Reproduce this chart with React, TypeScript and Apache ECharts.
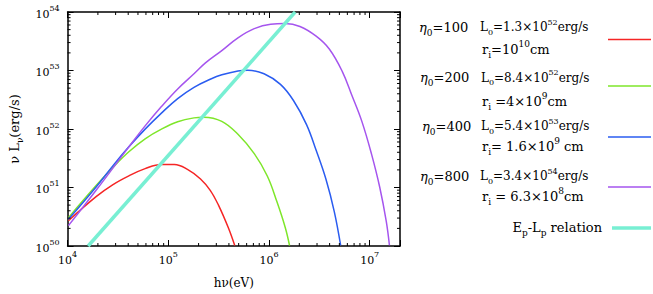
import React, { useEffect, useRef } from "react";
import * as echarts from "echarts";

// ---- data (hν in eV, νLν in erg/s) ----
const redE = [1.02e4, 1.92e4, 2.8e4, 4.06e4, 5.89e4, 8.55e4, 1.15e5, 1.55e5, 2.09e5, 2.61e5, 3.15e5, 3.94e5, 4.57e5];
const redL = [2.7e50, 6.97e50, 1.11e51, 1.58e51, 2.1e51, 2.47e51, 2.47e51, 2.04e51, 1.4e51, 8.95e50, 5.01e50, 2.07e50, 1.02e50];

const greenE = [1.02e4, 1.92e4, 2.8e4, 4.06e4, 5.89e4, 8.55e4, 1.24e5, 1.8e5, 2.25e5, 3.4e5, 4.92e5, 7.14e5, 9.62e5, 1.2e6, 1.45e6, 1.6e6];
const greenL = [3.05e50, 1.08e51, 2.18e51, 4.09e51, 6.81e51, 9.95e51, 1.33e52, 1.55e52, 1.59e52, 1.35e52, 8.11e51, 3.79e51, 1.57e51, 5.68e50, 2.07e50, 1.02e50];

const blueE = [1.02e4, 1.92e4, 2.8e4, 4.06e4, 5.89e4, 8.55e4, 1.24e5, 1.8e5, 2.61e5, 3.4e5, 4.92e5, 6.15e5, 8.93e5, 1.3e6, 1.75e6, 2.36e6, 2.94e6, 3.68e6, 4.45e6, 5.15e6];
const blueL = [2.86e50, 1.02e51, 2.32e51, 4.95e51, 9.95e51, 1.87e52, 3.31e52, 5.16e52, 7.08e52, 8.45e52, 9.84e52, 1.01e53, 8.79e52, 5.78e52, 3.07e52, 1.19e52, 4.32e51, 1.38e51, 3.88e50, 1.02e50];

const purpleE = [1.02e4, 1.92e4, 4.06e4, 5.89e4, 8.55e4, 1.24e5, 1.8e5, 2.34e5, 3.4e5, 4.92e5, 7.14e5, 1.04e6, 1.45e6, 2.03e6, 2.94e6, 3.97e6, 5.35e6, 6.68e6, 8.36e6, 1.04e7, 1.26e7, 1.46e7, 1.57e7];
const purpleL = [2.23e50, 8.95e50, 4.95e51, 1.13e52, 2.42e52, 4.84e52, 8.8e52, 1.35e53, 2.19e53, 3.62e53, 5.19e53, 6.17e53, 6.34e53, 5.65e53, 3.86e53, 2.33e53, 9.59e52, 3.71e52, 1.35e52, 3.79e51, 1.0e51, 2.65e50, 1.03e50];

const relationE = [1.6e4, 1.82e6];
const relationL = [1.0e50, 1.0e54];

// legend labels
const etaValues = ["100", "200", "400", "800"];
const l0Mantissa = ["1.3", "8.4", "5.4", "3.4"];
const l0Exponent = ["52", "52", "53", "54"];
const riLabels = [
  "{n|r}{sub|i}{n|=10}{sup|10}{n|cm}",
  "{n|r}{sub|i}{n| =4×10}{sup|9}{n|cm}",
  "{n|r}{sub|i}{n|= 1.6×10}{sup|9}{n| cm}",
  "{n|r}{sub|i}{n| = 6.3×10}{sup|8}{n|cm}",
];
const relationLabel = "{n|E}{sub|p}{n|-L}{sub|p}{n| relation}";
const xAxisTitle = "{n|hν(eV)}";
const yAxisTitle = "{n|ν L}{sub|ν}{n|(erg/s)}";

const colors = ["#f52525", "#7ee62a", "#2a5cf0", "#a555ee", "#78efd3"];

// axis settings
const xMin = 1e4;
const xMax = 2e7;
const yMin = 1e50;
const yMax = 1e54;
const minorMultipliers = [2, 3, 4, 5, 6, 7, 8, 9];

const FONT = "DejaVu Serif";

const zip = (a: number[], b: number[]) => a.map((v, i) => [v, b[i]]);

const rich13 = {
  n: { fontFamily: FONT, fontSize: 13, lineHeight: 20, color: "#000" },
  sup: { fontFamily: FONT, fontSize: 9, lineHeight: 9, verticalAlign: "top", color: "#000" },
  sub: { fontFamily: FONT, fontSize: 9, lineHeight: 14, verticalAlign: "bottom", color: "#000" },
};
const rich12 = {
  n: { fontFamily: FONT, fontSize: 12, lineHeight: 18, color: "#000" },
  sup: { fontFamily: FONT, fontSize: 8, lineHeight: 8, verticalAlign: "top", color: "#000" },
  sub: { fontFamily: FONT, fontSize: 8, lineHeight: 12, verticalAlign: "bottom", color: "#000" },
};

const axisRich = {
  b: { fontFamily: FONT, fontSize: 11, lineHeight: 20, color: "#000" },
  s: { fontFamily: FONT, fontSize: 8, lineHeight: 8, verticalAlign: "top", color: "#000" },
};

const powLabel = (v: number) => {
  const e = Math.round(Math.log10(v));
  if (Math.abs(v - Math.pow(10, e)) / v > 1e-6) return "";
  return `{b|10}{s|${e}}`;
};

function minorValues(min: number, max: number) {
  const out: number[] = [];
  for (let d = Math.floor(Math.log10(min)); d <= Math.ceil(Math.log10(max)); d++) {
    for (const m of minorMultipliers) {
      const v = m * Math.pow(10, d);
      if (v > min * 1.0001 && v < max * 0.9999) out.push(v);
    }
  }
  return out;
}

export default function App() {
  const ref = useRef<HTMLDivElement>(null);
  useEffect(() => {
    if (!ref.current) return;
    const chart = echarts.init(ref.current, undefined, { renderer: "svg" });
    const axisLine = { show: true, lineStyle: { color: "#000", width: 1.5 } };
    const tick = { show: true, inside: true, length: 6, lineStyle: { color: "#000", width: 1 } };
    const xBase = { type: "log", logBase: 10, min: xMin, max: xMax, splitLine: { show: false }, axisLine, axisTick: tick };
    const yBase = { type: "log", logBase: 10, min: yMin, max: yMax, splitLine: { show: false }, axisLine, axisTick: tick };

    const xMinor = minorValues(xMin, xMax);
    const yMinor = minorValues(yMin, yMax);

    const curve = (name: string, E: number[], L: number[], color: string) => ({
      name,
      type: "line",
      xAxisIndex: 0,
      yAxisIndex: 0,
      data: zip(E, L),
      showSymbol: false,
      symbol: "none",
      smooth: 0.4,
      lineStyle: { color, width: 1.5 },
      z: 3,
    });

    const graphics: any[] = [];
    const etaX = [419, 420, 422, 420];
    const etaY = [27, 77.5, 126, 176];
    const l0X = [480, 481, 481, 480];
    const riY = [49, 101, 146, 196];
    const lineY = [39.5, 86, 137, 187];
    for (let i = 0; i < 4; i++) {
      graphics.push({
        type: "text",
        x: etaX[i],
        y: etaY[i],
        style: {
          text: `{eta|η}{sub|0}{n|=${etaValues[i]}}`,
          rich: { ...rich13, eta: { fontFamily: FONT, fontSize: 13, fontStyle: "italic", lineHeight: 20, color: "#000" } },
          verticalAlign: "middle",
          align: "left",
        },
      });
      graphics.push({
        type: "text",
        x: l0X[i],
        y: etaY[i],
        style: {
          text: `{n|L}{sub|0}{n|=${l0Mantissa[i]}×10}{sup|${l0Exponent[i]}}{n|erg/s}`,
          rich: rich12,
          verticalAlign: "middle",
          align: "left",
        },
      });
      graphics.push({
        type: "text",
        x: 482,
        y: riY[i],
        style: { text: riLabels[i], rich: rich13, verticalAlign: "middle", align: "left" },
      });
      graphics.push({
        type: "line",
        shape: { x1: 608, y1: lineY[i], x2: 651, y2: lineY[i] },
        style: { stroke: colors[i], lineWidth: 1.5 },
      });
    }
    graphics.push({
      type: "text",
      x: 602,
      y: 227.5,
      style: { text: relationLabel, rich: rich13, verticalAlign: "middle", align: "right" },
    });
    graphics.push({
      type: "line",
      shape: { x1: 612, y1: 228, x2: 651, y2: 228 },
      style: { stroke: colors[4], lineWidth: 3.5 },
    });

    chart.setOption({
      animation: false,
      backgroundColor: "#fff",
      grid: { left: 59, right: 253, top: 12, bottom: 40 },
      xAxis: [
        {
          ...xBase,
          position: "bottom",
          name: xAxisTitle,
          nameLocation: "middle",
          nameGap: 28,
          nameTextStyle: { rich: rich12 },
          axisLabel: { formatter: powLabel, rich: axisRich, margin: 4 },
        },
        { ...xBase, position: "top", axisLabel: { show: false } },
      ],
      yAxis: [
        {
          ...yBase,
          position: "left",
          name: yAxisTitle,
          nameLocation: "middle",
          nameRotate: 90,
          nameGap: 43,
          nameTextStyle: { rich: rich13 },
          axisLabel: { formatter: powLabel, rich: axisRich, margin: 8, padding: [4, 0, 0, 0] },
        },
        { ...yBase, position: "right", axisLabel: { show: false } },
      ],
      series: [
        curve("η0=100", redE, redL, colors[0]),
        curve("η0=200", greenE, greenL, colors[1]),
        curve("η0=400", blueE, blueL, colors[2]),
        curve("η0=800", purpleE, purpleL, colors[3]),
        {
          name: "Ep-Lp relation",
          type: "line",
          xAxisIndex: 0,
          yAxisIndex: 0,
          data: zip(relationE, relationL),
          showSymbol: false,
          symbol: "none",
          lineStyle: { color: colors[4], width: 3.5 },
          z: 4,
        },
        {
          type: "custom",
          xAxisIndex: 0,
          yAxisIndex: 0,
          silent: true,
          clip: false,
          z: 10,
          data: [[1e5, 1e52]],
          renderItem: (params: any, api: any) => {
            const cs = params.coordSys;
            const children: any[] = [];
            const st = { stroke: "#000", lineWidth: 1 };
            const bottom = cs.y + cs.height;
            const right = cs.x + cs.width;
            for (const v of xMinor) {
              const px = api.coord([v, 1e52])[0];
              children.push({ type: "line", shape: { x1: px, y1: bottom, x2: px, y2: bottom - 3 }, style: st });
              children.push({ type: "line", shape: { x1: px, y1: cs.y, x2: px, y2: cs.y + 3 }, style: st });
            }
            for (const v of yMinor) {
              const py = api.coord([1e5, v])[1];
              children.push({ type: "line", shape: { x1: cs.x, y1: py, x2: cs.x + 3, y2: py }, style: st });
              children.push({ type: "line", shape: { x1: right, y1: py, x2: right - 3, y2: py }, style: st });
            }
            return { type: "group", children };
          },
        },
      ],
      graphic: graphics,
    } as any);
    return () => chart.dispose();
  }, []);
  return <div ref={ref} style={{ position: "fixed", left: 0, top: 0, width: 653, height: 294 }} />;
}
